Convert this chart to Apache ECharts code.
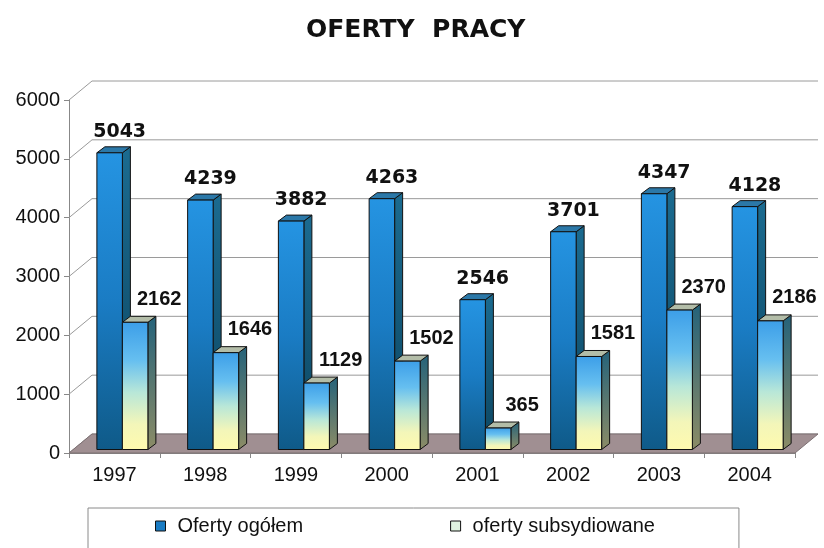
<!DOCTYPE html>
<html>
<head>
<meta charset="utf-8">
<script src="https://cdn.jsdelivr.net/npm/echarts@6/dist/echarts.min.js"></script>
<style>
  html, body { margin: 0; padding: 0; background: #fff; }
  #chart { width: 824px; height: 548px; }
</style>
</head>
<body>
<div id="chart"></div>
<script>
// dane
const years = ['1997', '1998', '1999', '2000', '2001', '2002', '2003', '2004'];
const ofertyOgolem = [5043, 4239, 3882, 4263, 2546, 3701, 4347, 4128];
const ofertySubsydiowane = [2162, 1646, 1129, 1502, 365, 1581, 2370, 2186];
const yTicks = [0, 1000, 2000, 3000, 4000, 5000, 6000];

// glebokosc "3D"
const WALL_DX = 23, WALL_DY = -19;
const BAR_DX = 8, BAR_DY = -6;
const BAR_SHIFT = -3.5;
const BAR_W = 25.5;

const grad = (stops) => new echarts.graphic.LinearGradient(0, 0, 0, 1,
    stops.map(s => ({ offset: s[0], color: s[1] })));

function barRenderer(offsetX, look) {
    return function (params, api) {
        let idx = api.value(0), val = api.value(1);
        let base = api.coord([idx, 0]);
        let top = api.coord([idx, val]);
        let x0 = base[0] + offsetX, x1 = x0 + BAR_W;
        let yb = base[1] + BAR_SHIFT, yt = top[1] + BAR_SHIFT;
        let stroke = { stroke: '#111', lineWidth: 1 };
        return {
            type: 'group',
            children: [
                {
                    type: 'polygon',
                    shape: { points: [[x1, yt], [x1 + BAR_DX, yt + BAR_DY], [x1 + BAR_DX, yb + BAR_DY], [x1, yb]] },
                    style: Object.assign({ fill: grad(look.side) }, stroke)
                },
                {
                    type: 'polygon',
                    shape: { points: [[x0, yt], [x0 + BAR_DX, yt + BAR_DY], [x1 + BAR_DX, yt + BAR_DY], [x1, yt]] },
                    style: Object.assign({ fill: look.top }, stroke)
                },
                {
                    type: 'rect',
                    shape: { x: x0, y: yt, width: BAR_W, height: yb - yt },
                    style: Object.assign({ fill: grad(look.front) }, stroke)
                },
                {
                    type: 'text',
                    z2: 10,
                    x: x0 + BAR_W / 2 + look.labelDx,
                    y: yt + look.labelDy,
                    style: {
                        text: String(val),
                        fill: '#111',
                        font: look.font,
                        align: 'center',
                        verticalAlign: 'middle'
                    }
                }
            ]
        };
    };
}

const blueLook = {
    front: [[0, '#2594e2'], [0.5, '#1a7cc4'], [1, '#0f5a88']],
    side: [[0, '#1b6b90'], [1, '#0c4560']],
    top: '#2b78a8',
    font: 'bold 19px "DejaVu Sans"',
    labelDx: 10, labelDy: -21
};
const yellowLook = {
    front: [[0, '#3c9ee8'], [0.3, '#66bff0'], [0.55, '#b8e7d8'], [0.8, '#f3f6b9'], [1, '#fffaae']],
    side: [[0, '#24627a'], [1, '#8c8c66']],
    top: '#b3bda8',
    font: 'bold 20px "Liberation Sans"',
    labelDx: 24, labelDy: -23
};

let chart = echarts.init(document.getElementById('chart'));

let option = {
    backgroundColor: '#fff',
    animation: false,
    title: {
        text: 'OFERTY  PRACY',
        left: 301,
        top: 13,
        textStyle: { fontFamily: 'DejaVu Sans', fontWeight: 'bold', fontSize: 25, color: '#111' }
    },
    legend: {
        left: 88,
        top: 508,
        padding: [8, 84, 40, 67],
        itemGap: 147,
        itemWidth: 10,
        itemHeight: 10,
        borderColor: '#8a8a8a',
        borderWidth: 1,
        textStyle: { fontFamily: 'Liberation Sans', fontSize: 20, color: '#111', padding: [0, 0, 0, 7] },
        data: [
            { name: 'Oferty ogółem', icon: 'rect', itemStyle: { color: '#1a7cc4', borderColor: '#111', borderWidth: 1 } },
            { name: 'oferty subsydiowane', icon: 'rect', itemStyle: { color: '#dff3e0', borderColor: '#111', borderWidth: 1 } }
        ]
    },
    grid: { left: 69, right: 29, top: 100, bottom: 95 },
    xAxis: {
        type: 'category',
        data: years,
        axisLine: { lineStyle: { color: '#888' } },
        axisTick: { show: true, length: 5, lineStyle: { color: '#888' } },
        axisLabel: { margin: 12, fontFamily: 'Liberation Sans', fontSize: 20, color: '#111' }
    },
    yAxis: {
        type: 'value',
        min: 0,
        max: 6000,
        interval: 1000,
        splitLine: { show: false },
        axisLine: { show: true, lineStyle: { color: '#888' } },
        axisTick: { show: true, length: 5, lineStyle: { color: '#888' } },
        axisLabel: {
            margin: 9, fontFamily: 'Liberation Sans', fontSize: 20, color: '#111',
            formatter: v => String(v)
        }
    },
    series: [
        {
            // sciana tylna + boczna
            type: 'custom',
            silent: true,
            data: yTicks.map(v => [0, v]),
            renderItem: function (params, api) {
                let cs = params.coordSys;
                let y = api.coord([0, api.value(1)])[1];
                let ls = { stroke: '#9a9a9a', lineWidth: 1 };
                return {
                    type: 'group',
                    children: [
                        { type: 'line', shape: { x1: cs.x, y1: y, x2: cs.x + WALL_DX, y2: y + WALL_DY }, style: ls },
                        { type: 'line', shape: { x1: cs.x + WALL_DX, y1: y + WALL_DY, x2: cs.x + cs.width + WALL_DX, y2: y + WALL_DY }, style: ls }
                    ]
                };
            }
        },
        {
            // podloga
            type: 'custom',
            silent: true,
            data: [[0, 0]],
            renderItem: function (params, api) {
                let cs = params.coordSys;
                let yb = cs.y + cs.height;
                return {
                    type: 'polygon',
                    shape: { points: [[cs.x, yb], [cs.x + cs.width, yb], [cs.x + cs.width + WALL_DX, yb + WALL_DY], [cs.x + WALL_DX, yb + WALL_DY]] },
                    style: { fill: '#a08f92', stroke: '#7d7073', lineWidth: 1 }
                };
            }
        },
        {
            name: 'Oferty ogółem',
            type: 'custom',
            itemStyle: { color: '#1a7cc4' },
            data: ofertyOgolem.map((v, i) => [i, v]),
            renderItem: barRenderer(-17.5, blueLook)
        },
        {
            name: 'oferty subsydiowane',
            type: 'custom',
            itemStyle: { color: '#dff3e0' },
            data: ofertySubsydiowane.map((v, i) => [i, v]),
            renderItem: barRenderer(8, yellowLook)
        }
    ]
};

chart.setOption(option);
</script>
</body>
</html>
